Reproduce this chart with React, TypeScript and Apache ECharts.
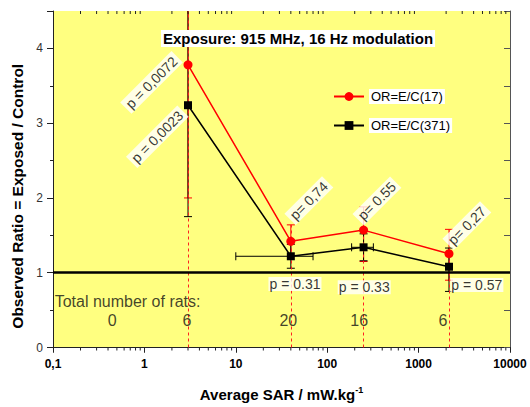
import React, { useEffect, useRef } from 'react';
import * as echarts from 'echarts';

const FONT = 'Liberation Sans, Arial, Helvetica, sans-serif';

// Average SAR (mW/kg) of each exposure group
const sarValues = [3, 40, 250, 2150];
// OR = E/C (17)
const ratio17 = [3.78, 1.42, 1.57, 1.255];
const ratio17Low = [2.0, 1.22, 1.15, 0.9];
const ratio17High = [5.6, 1.64, 1.88, 1.58];
// OR = E/C (371)
const ratio371 = [3.24, 1.22, 1.34, 1.08];
const ratio371Low = [1.75, 1.06, 1.16, 0.75];
const ratio371High = [4.8, 1.38, 1.52, 1.33];
// horizontal SAR spread for (371)
const sarLow371 = [null, 10, 185, null];
const sarHigh371 = [null, 70, 320, null];
// top of the dashed guide lines
const guideTop = [4.5, 1.64, 1.88, 1.58];
const referenceRatio = 1;

// axis ranges / ticks
const xMin = 0.1;
const xMax = 10000;
const yMin = 0;
const yMax = 4.5;
const decades = [0.1, 1, 10, 100, 1000];
const minorSteps = [2, 3, 4, 5, 6, 7, 8, 9];

// annotations (data coordinates)
const rotLabelText = ['p = 0,0072', 'p = 0,0023', 'p= 0,74', 'p= 0.55', 'p= 0,27'];
const rotLabelX = [1.196, 1.384, 63, 350, 3373];
const rotLabelY = [3.545, 2.819, 1.964, 1.96, 1.63];
const flatLabelText = ['p = 0.31', 'p = 0.33', 'p = 0.57'];
const flatLabelX = [44.4, 254, 4340];
const flatLabelY = [0.848, 0.805, 0.835];
const ratCountText = ['0', '6', '20', '16', '6'];
const ratCountX = [0.445, 2.93, 37.5, 224, 1846];
const ratCountY = 0.36;
const ratTitle = 'Total number of rats:';
const ratTitleX = 0.1043;
const ratTitleY = 0.62;

const RED = '#ff0000';
const BLACK = '#000000';

function vErrSeries(color: string, lows: number[], highs: number[]) {
  return {
    type: 'custom',
    silent: true,
    clip: true,
    z: 3,
    data: sarValues.map((x, i) => [x, lows[i], highs[i]]),
    encode: { x: 0, y: [1, 2] },
    renderItem: (params: any, api: any) => {
      const x = api.value(0);
      const pl = api.coord([x, api.value(1)]);
      const ph = api.coord([x, api.value(2)]);
      const cw = 4;
      const style = { stroke: color, lineWidth: 1 };
      return {
        type: 'group',
        children: [
          { type: 'line', shape: { x1: pl[0], y1: pl[1], x2: ph[0], y2: ph[1] }, style },
          { type: 'line', shape: { x1: pl[0] - cw, y1: pl[1], x2: pl[0] + cw, y2: pl[1] }, style },
          { type: 'line', shape: { x1: ph[0] - cw, y1: ph[1], x2: ph[0] + cw, y2: ph[1] }, style },
        ],
      };
    },
  };
}

export default function App() {
  const ref = useRef<HTMLDivElement>(null);

  useEffect(() => {
    if (!ref.current) return;
    const chart = echarts.init(ref.current, null, { renderer: 'svg' });

    const minorTickValues: number[] = [];
    decades.forEach((d) => minorSteps.forEach((m) => minorTickValues.push(d * m)));

    const hErrData: number[][] = [];
    sarValues.forEach((_, i) => {
      if (sarLow371[i] != null && sarHigh371[i] != null) {
        hErrData.push([sarLow371[i] as number, ratio371[i], sarHigh371[i] as number]);
      }
    });

    const axisColor = '#222';

    const option: any = {
      animation: false,
      textStyle: { fontFamily: FONT },
      title: {
        text: 'Exposure: 915 MHz, 16 Hz modulation',
        left: 161,
        top: 30,
        padding: [1, 2],
        backgroundColor: '#ffffff',
        textStyle: { fontSize: 15, fontWeight: 'bold', color: '#000', fontFamily: FONT, lineHeight: 15 },
      },
      legend: {
        data: ['OR=E/C(17)', 'OR=E/C(371)'],
        orient: 'vertical',
        left: 328,
        top: 84,
        itemWidth: 30,
        itemHeight: 11,
        itemGap: 14,
        selectedMode: false,
        textStyle: {
          fontSize: 13,
          color: '#000',
          fontFamily: FONT,
          backgroundColor: '#ffffff',
          padding: [1, 2],
        },
      },
      grid: {
        left: 53,
        right: 20,
        top: 11,
        bottom: 55,
        show: true,
        backgroundColor: '#FFFF80',
        borderWidth: 0,
      },
      xAxis: [
        {
          type: 'log',
          logBase: 10,
          min: xMin,
          max: xMax,
          position: 'bottom',
          name: '{t|Average SAR / mW.kg}{s|-1}',
          nameLocation: 'middle',
          nameGap: 38,
          nameTextStyle: {
            rich: {
              t: { fontSize: 15, fontWeight: 'bold', color: '#000', fontFamily: FONT, lineHeight: 18 },
              s: { fontSize: 9, fontWeight: 'bold', color: '#000', fontFamily: FONT, verticalAlign: 'top', lineHeight: 10 },
            },
          },
          axisLine: { show: true, lineStyle: { color: axisColor, width: 1 } },
          axisTick: { show: true, inside: false, length: 5, lineStyle: { color: axisColor } },
          axisLabel: {
            fontSize: 12,
            fontWeight: 'bold',
            color: '#000',
            margin: 10,
            fontFamily: FONT,
            formatter: (v: number) => (v < 1 ? String(v).replace('.', ',') : String(Math.round(v))),
          },
          splitLine: { show: false },
          minorTick: { show: false },
        },
        {
          type: 'log',
          logBase: 10,
          min: xMin,
          max: xMax,
          position: 'top',
          axisLine: { show: true, lineStyle: { color: axisColor, width: 1 } },
          axisTick: { show: true, inside: true, length: 5, lineStyle: { color: axisColor } },
          axisLabel: { show: false },
          splitLine: { show: false },
        },
      ],
      yAxis: [
        {
          type: 'value',
          min: yMin,
          max: yMax,
          interval: 1,
          position: 'left',
          name: 'Observed Ratio = Exposed / Control',
          nameLocation: 'middle',
          nameRotate: 90,
          nameGap: 27,
          nameTextStyle: { fontSize: 15.5, fontWeight: 'bold', color: '#000', fontFamily: FONT, padding: [0, 34, 0, 0] },
          axisLine: { show: true, lineStyle: { color: axisColor, width: 1 } },
          axisTick: { show: true, inside: false, length: 6, lineStyle: { color: axisColor } },
          axisLabel: {
            fontSize: 12,
            color: '#333',
            margin: 10,
            fontFamily: FONT,
            formatter: (v: number) => (Number.isInteger(v) ? String(v) : ''),
          },
          splitLine: { show: false },
        },
        {
          type: 'value',
          min: yMin,
          max: yMax,
          interval: 0.5,
          position: 'right',
          axisLine: { show: true, lineStyle: { color: '#555', width: 1 } },
          axisTick: { show: true, inside: true, length: 6, lineStyle: { color: '#555' } },
          axisLabel: { show: false },
          splitLine: { show: false },
        },
        {
          type: 'value',
          min: yMin,
          max: yMax,
          interval: 0.5,
          position: 'left',
          axisLine: { show: false },
          axisTick: { show: true, inside: false, length: 3, lineStyle: { color: axisColor } },
          axisLabel: { show: false },
          splitLine: { show: false },
        },
      ],
      series: [
        {
          // dashed vertical guides
          type: 'line',
          data: [],
          silent: true,
          z: 1,
          markLine: {
            silent: true,
            symbol: ['none', 'none'],
            label: { show: false },
            lineStyle: { color: '#ff2020', width: 1, type: [3, 3] },
            data: sarValues.map((x, i) => [{ coord: [x, yMin] }, { coord: [x, guideTop[i]] }]),
          },
        },
        {
          // minor ticks on log axes
          type: 'custom',
          silent: true,
          clip: false,
          z: 1,
          data: minorTickValues.map((v) => [v, 0]),
          encode: { x: 0, y: 1 },
          renderItem: (params: any, api: any) => {
            const x = api.value(0);
            const b = api.coord([x, yMin]);
            const t = api.coord([x, yMax]);
            const style = { stroke: axisColor, lineWidth: 1 };
            return {
              type: 'group',
              children: [
                { type: 'line', shape: { x1: b[0], y1: b[1], x2: b[0], y2: b[1] + 3 }, style },
                { type: 'line', shape: { x1: t[0], y1: t[1], x2: t[0], y2: t[1] + 3 }, style },
              ],
            };
          },
        },
        vErrSeries(RED, ratio17Low, ratio17High),
        vErrSeries(BLACK, ratio371Low, ratio371High),
        {
          type: 'custom',
          silent: true,
          clip: true,
          z: 3,
          data: hErrData,
          encode: { x: [0, 2], y: 1 },
          renderItem: (params: any, api: any) => {
            const y = api.value(1);
            const p1 = api.coord([api.value(0), y]);
            const p2 = api.coord([api.value(2), y]);
            const ch = 4;
            const style = { stroke: BLACK, lineWidth: 1 };
            return {
              type: 'group',
              children: [
                { type: 'line', shape: { x1: p1[0], y1: p1[1], x2: p2[0], y2: p2[1] }, style },
                { type: 'line', shape: { x1: p1[0], y1: p1[1] - ch, x2: p1[0], y2: p1[1] + ch }, style },
                { type: 'line', shape: { x1: p2[0], y1: p2[1] - ch, x2: p2[0], y2: p2[1] + ch }, style },
              ],
            };
          },
        },
        {
          name: 'OR=E/C(371)',
          type: 'line',
          z: 5,
          data: sarValues.map((x, i) => [x, ratio371[i]]),
          symbol: 'rect',
          symbolSize: 8,
          lineStyle: { color: BLACK, width: 1.5 },
          itemStyle: { color: BLACK },
          emphasis: { disabled: true },
        },
        {
          name: 'OR=E/C(17)',
          type: 'line',
          z: 5,
          data: sarValues.map((x, i) => [x, ratio17[i]]),
          symbol: 'circle',
          symbolSize: 9,
          lineStyle: { color: RED, width: 1.5 },
          itemStyle: { color: RED },
          emphasis: { disabled: true },
        },
        {
          // reference line at ratio 1
          type: 'line',
          data: [],
          silent: true,
          z: 6,
          markLine: {
            silent: true,
            symbol: ['none', 'none'],
            label: { show: false },
            lineStyle: { color: '#000', width: 2.5, type: 'solid' },
            data: [{ yAxis: referenceRatio }],
          },
        },
        {
          type: 'scatter',
          silent: true,
          z: 10,
          symbolSize: 0,
          itemStyle: { color: 'rgba(0,0,0,0)' },
          data: rotLabelX.map((x, i) => ({ value: [x, rotLabelY[i]], name: rotLabelText[i] })),
          label: {
            show: true,
            position: 'inside',
            formatter: '{b}',
            rotate: 45,
            fontSize: 14,
            color: '#000',
            fontFamily: FONT,
            backgroundColor: '#ffffff',
            padding: [1, 3],
          },
          emphasis: { disabled: true },
        },
        {
          type: 'scatter',
          silent: true,
          z: 10,
          symbolSize: 0,
          itemStyle: { color: 'rgba(0,0,0,0)' },
          data: flatLabelX.map((x, i) => ({ value: [x, flatLabelY[i]], name: flatLabelText[i] })),
          label: {
            show: true,
            position: 'inside',
            formatter: '{b}',
            fontSize: 14,
            color: '#000',
            fontFamily: FONT,
            backgroundColor: '#ffffff',
            padding: [0, 1],
          },
          emphasis: { disabled: true },
        },
        {
          type: 'scatter',
          silent: true,
          z: 10,
          symbolSize: 0,
          itemStyle: { color: 'rgba(0,0,0,0)' },
          data: ratCountX.map((x, i) => ({ value: [x, ratCountY], name: ratCountText[i] })),
          label: {
            show: true,
            position: 'inside',
            formatter: '{b}',
            fontSize: 16,
            color: '#111',
            fontFamily: FONT,
          },
          emphasis: { disabled: true },
        },
        {
          type: 'scatter',
          silent: true,
          z: 10,
          symbolSize: 0,
          itemStyle: { color: 'rgba(0,0,0,0)' },
          data: [{ value: [ratTitleX, ratTitleY], name: ratTitle }],
          label: {
            show: true,
            position: 'right',
            distance: 0,
            formatter: '{b}',
            fontSize: 16,
            color: '#111',
            fontFamily: FONT,
          },
          emphasis: { disabled: true },
        },
      ],
    };

    chart.setOption(option);
    return () => {
      chart.dispose();
    };
  }, []);

  return (
    <div
      ref={ref}
      style={{ position: 'fixed', left: 0, top: 0, width: 530, height: 407, background: '#ffffff' }}
    />
  );
}
